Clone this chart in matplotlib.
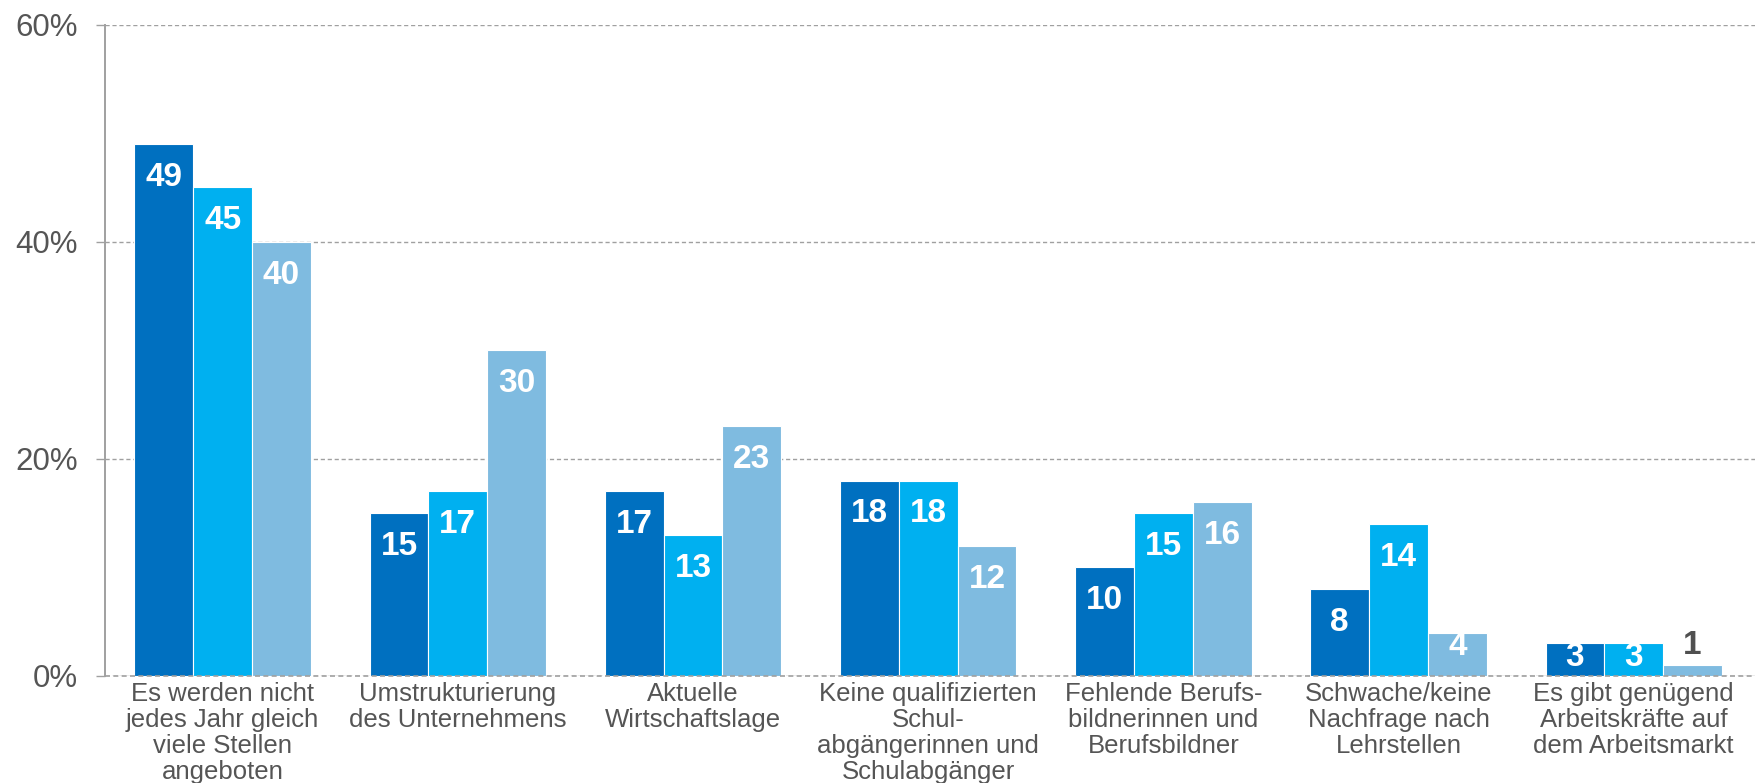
import numpy as np
import matplotlib
matplotlib.use("Agg")
import matplotlib.pyplot as plt

plt.rcParams['font.family'] = ['Liberation Sans', 'DejaVu Sans']

categories = [
    "Es werden nicht\njedes Jahr gleich\nviele Stellen\nangeboten",
    "Umstrukturierung\ndes Unternehmens",
    "Aktuelle\nWirtschaftslage",
    "Keine qualifizierten\nSchul-\nabgängerinnen und\nSchulabgänger",
    "Fehlende Berufs-\nbildnerinnen und\nBerufsbildner",
    "Schwache/keine\nNachfrage nach\nLehrstellen",
    "Es gibt genügend\nArbeitskräfte auf\ndem Arbeitsmarkt",
]
series_a = [49, 15, 17, 18, 10, 8, 3]
series_b = [45, 17, 13, 18, 15, 14, 3]
series_c = [40, 30, 23, 12, 16, 4, 1]
colors = ["#0070C0", "#00B0F0", "#7FBBE0"]
y_ticks = [0, 20, 40, 60]
y_ticklabels = ["0%", "20%", "40%", "60%"]

grey = "#555555"
line_grey = "#A0A0A0"

fig = plt.figure(figsize=(17.56, 7.83), dpi=100)
ax = fig.add_axes([0.0598, 0.1367, 0.9402, 0.8319])

x = np.arange(len(categories))
w = 0.25
for i, (vals, col) in enumerate(zip([series_a, series_b, series_c], colors)):
    pos = x + (i - 1) * w
    bars = ax.bar(pos, vals, width=w, color=col, edgecolor="white", linewidth=0.8, zorder=3)
    for b, v in zip(bars, vals):
        cx = b.get_x() + b.get_width() / 2
        # inside end for tall bars, centred for short ones, above for tiny
        if v >= 8:
            off, tc = -24, "white"
        elif v >= 3:
            off, tc = -10, "white"
        else:
            off, tc = 14, "#505050"
        ax.annotate(str(v), (cx, v), xytext=(0, off), textcoords="offset points",
                    ha="center", va="center", color=tc, fontsize=24,
                    fontweight="bold", zorder=4)

ax.set_xlim(-0.5, 6.52)
ax.set_ylim(0, 60)
ax.set_yticks(y_ticks)
ax.set_yticklabels(y_ticklabels, fontsize=22.5, color=grey)
ax.set_xticks(x)
ax.set_xticklabels(categories, fontsize=18.5, color=grey, linespacing=1.12)

ax.yaxis.grid(True, color=line_grey, linestyle=(0, (3, 2)), linewidth=1.0, zorder=0)
ax.axhline(0, color=line_grey, linestyle=(0, (3, 2)), linewidth=1.2, zorder=5, clip_on=False)
ax.set_axisbelow(True)
for s in ["top", "right", "bottom"]:
    ax.spines[s].set_visible(False)
ax.spines["left"].set_color(line_grey)
ax.spines["left"].set_linewidth(1.4)
ax.tick_params(axis="y", length=6.5, width=1.0, color=line_grey, pad=13)
ax.tick_params(axis="x", length=0, pad=4)

fig.savefig("out.png", dpi=100)
